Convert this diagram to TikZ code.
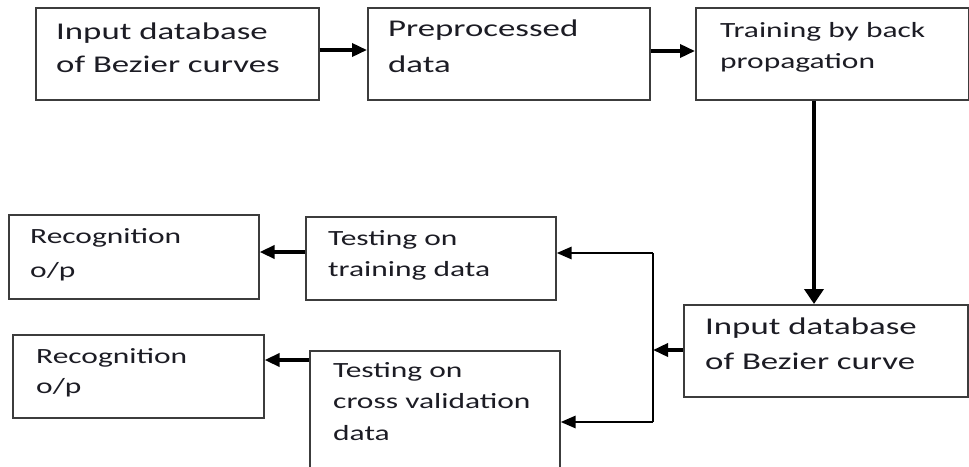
\documentclass[tikz,border=0pt]{standalone}
\usepackage{fontspec}
\setmainfont{Carlito}
\newfontfamily\wideface[FakeStretch=1.45]{Carlito}
\usetikzlibrary{arrows.meta}

\definecolor{boxline}{RGB}{60,60,60}
\definecolor{ink}{RGB}{28,28,36}

% font sizes used in the boxes
\newcommand\bigtext{\wideface\fontsize{24}{33}\selectfont}
\newcommand\smalltext{\wideface\fontsize{21.7}{31}\selectfont}
% stacked lines, baseline of the first line is the node's baseline
\newcommand\stacklines[2]{\vtop{\baselineskip=#1pt\relax #2}}

\begin{document}
\begin{tikzpicture}[x=1pt,y=-1pt,
  box/.style={draw=boxline, line width=1.6pt, inner sep=0pt, anchor=north west},
  txt/.style={anchor=base west, inner sep=0pt, text=ink},
  arr/.style={-{Triangle[length=15pt,width=13pt]}, line width=3.5pt, draw=black},
  arrthin/.style={-{Triangle[length=15pt,width=12pt]}, line width=2.8pt, draw=black},
  bigarr/.style={-{Triangle[length=15pt,width=19pt]}, line width=4.5pt, draw=black},
  link/.style={line width=2.5pt, draw=black}]

\useasboundingbox (0,0) rectangle (969,466);
\clip (0,0) rectangle (969,466);
\fill[white] (0,0) rectangle (969,466);

% top row
\node[box, minimum width=283pt, minimum height=92pt] (b1) at (35,7) {};
\node[box, minimum width=282pt, minimum height=92pt] (b2) at (367,7) {};
\node[box, minimum width=273pt, minimum height=92pt] (b3) at (695,7) {};

\node[txt] (t1) at (56,39) {\bigtext\stacklines{33}{\hbox{Input database}\hbox{of Bezier curves}}};
\node[txt] (t2) at (388,36) {\bigtext\stacklines{36}{\hbox{Preprocessed}\hbox{data}}};
\node[txt] (t3) at (720,37) {\smalltext\stacklines{31}{\hbox{Training by back}\hbox{propagation}}};

% second input block
\node[box, minimum width=284pt, minimum height=92pt] (b4) at (683,304) {};
\node[txt] (t4) at (705,334) {\bigtext\stacklines{35}{\hbox{Input database}\hbox{of Bezier curve}}};

% testing blocks
\node[box, minimum width=250pt, minimum height=83pt] (b5) at (305,216) {};
\node[txt] (t5) at (328,245) {\smalltext\stacklines{31}{\hbox{Testing on}\hbox{training data}}};
\node[box, minimum width=250pt, minimum height=140pt] (b6) at (309,350) {};
\node[txt] (t6) at (333,377) {\smalltext\stacklines{31.5}{\hbox{Testing on}\hbox{cross validation}\hbox{data}}};

% output blocks
\node[box, minimum width=250pt, minimum height=84pt] (b7) at (8,214) {};
\node[txt] (t7) at (30,243) {\smalltext\stacklines{34}{\hbox{Recognition}\hbox{o/p}}};
\node[box, minimum width=251pt, minimum height=83pt] (b8) at (12,334) {};
\node[txt] (t8) at (36,363) {\smalltext\stacklines{30}{\hbox{Recognition}\hbox{o/p}}};

% helper rows and columns for the connectors
\coordinate (row1) at (0,50);
\coordinate (row2) at (0,51);
\coordinate (col) at (814,0);
\coordinate (j0) at (653,350);
\coordinate (j1) at (653,253);
\coordinate (j2) at (653,422);
\coordinate (row7) at (0,252);
\coordinate (row8) at (0,360);

% connectors
\draw[arr] (b1.east |- row1) -- (b2.west |- row1);
\draw[arr] (b2.east |- row2) -- (b3.west |- row2);
\draw[bigarr] (b3.south -| col) -- (b4.north -| col);
\draw[link] (j1) -- (j2);
\draw[arr] (b4.west |- j0) -- (j0);
\draw[arrthin] (j1) -- (b5.east |- j1);
\draw[arrthin] (j2) -- (b6.east |- j2);
\draw[arr] (b5.west |- row7) -- (b7.east |- row7);
\draw[arr] (b6.west |- row8) -- (b8.east |- row8);
\end{tikzpicture}
\end{document}
